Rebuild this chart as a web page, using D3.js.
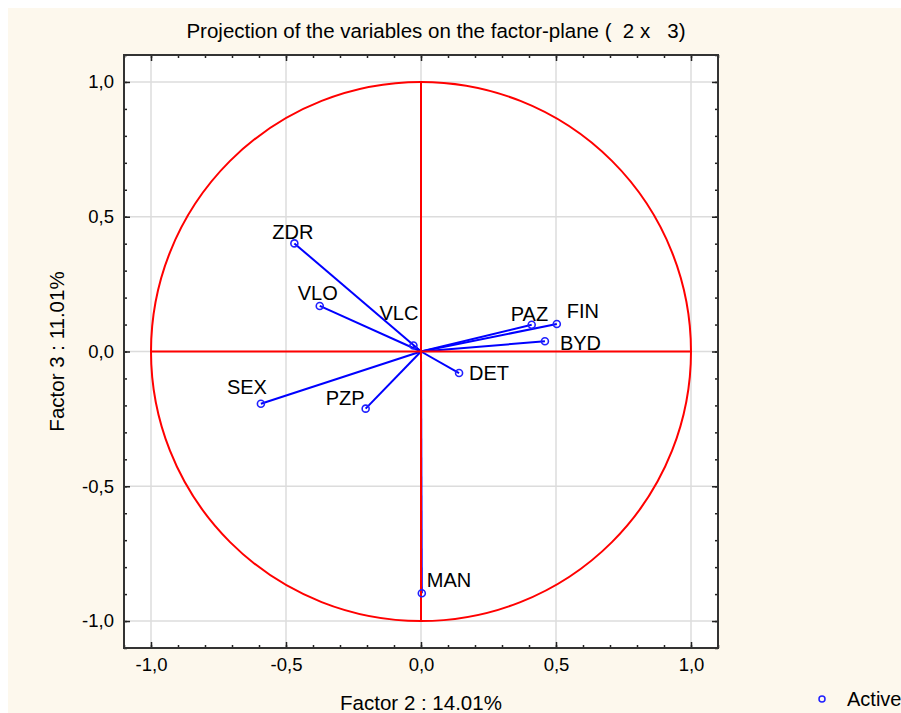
<!DOCTYPE html>
<html>
<head>
<meta charset="utf-8">
<script src="https://cdn.jsdelivr.net/npm/d3@7"></script>
<style>
	body { margin: 0; background: #ffffff; }
	text { font-family: "Liberation Sans", Arial, sans-serif; white-space: pre; }
</style>
</head>
<body>
<div id="factor-plane"></div>
<script>
//Variable names and their coordinates on the factor plane (Factor 2 x Factor 3)
var varNames = ["ZDR", "VLO", "VLC", "SEX", "PZP", "PAZ", "FIN", "BYD", "DET", "MAN"];
var factor2 = [-0.469, -0.375, -0.028, -0.593, -0.205, 0.410, 0.503, 0.459, 0.141, 0.003];
var factor3 = [0.401, 0.169, 0.022, -0.194, -0.212, 0.099, 0.102, 0.038, -0.080, -0.897];

//Where the name sits next to its point (pixels, relative to the point)
var labelDx = [-22, -22, -34, -34, -40, -21, 10, 15, 10, 5];
var labelDy = [-4, -6, -26, -10, -4, -4, -6, 9, 7, -6];

var majorTicks = [-1.0, -0.5, 0.0, 0.5, 1.0];
var minorTicks = d3.range(-11, 12).map(function(d){ return d / 10; });

var chartTitle = "Projection of the variables on the factor-plane (  2 x   3)";
var xTitle = "Factor 2 : 14.01%";
var yTitle = "Factor 3 : 11.01%";
var legendText = "Active";

//Standard margin praxis
var width = 901, height = 713;
var chartMargin = {top: 55, right: 183, bottom: 65, left: 124},
	chartWidth = width - chartMargin.left - chartMargin.right,
	chartHeight = height - chartMargin.top - chartMargin.bottom;

var svg = d3.select("#factor-plane")
	.append("svg")
	.attr("width", width)
	.attr("height", height);

//Cream background with the thin white edge on top and left
svg.append("rect")
	.attr("x", 8)
	.attr("y", 8)
	.attr("width", width - 8)
	.attr("height", height - 8)
	.attr("fill", "#fdf8ed");

var plot = svg.append("g")
	.attr("transform", "translate(" + chartMargin.left + "," + chartMargin.top + ")");

plot.append("rect")
	.attr("width", chartWidth)
	.attr("height", chartHeight)
	.attr("fill", "#ffffff");

var x = d3.scaleLinear().domain([-1.1, 1.1]).range([0, chartWidth]);
var y = d3.scaleLinear().domain([-1.1, 1.1]).range([chartHeight, 0]);

var commaFormat = d3.formatLocale({decimal: ",", thousands: ".", grouping: [3], currency: ["", ""], minus: "-"}).format(".1f");

//Grid lines
plot.selectAll(".gridX")
	.data(majorTicks)
	.enter().append("line")
	.attr("class", "gridX")
	.attr("x1", function(d){ return x(d); })
	.attr("x2", function(d){ return x(d); })
	.attr("y1", 0)
	.attr("y2", chartHeight)
	.attr("stroke", "#dcdcdc")
	.attr("stroke-width", 1.5);

plot.selectAll(".gridY")
	.data(majorTicks)
	.enter().append("line")
	.attr("class", "gridY")
	.attr("y1", function(d){ return y(d); })
	.attr("y2", function(d){ return y(d); })
	.attr("x1", 0)
	.attr("x2", chartWidth)
	.attr("stroke", "#dcdcdc")
	.attr("stroke-width", 1.5);

//Vectors from the origin to each variable
var points = varNames.map(function(name, i){
	return {name: name, f2: factor2[i], f3: factor3[i], dx: labelDx[i], dy: labelDy[i]};
});

plot.selectAll(".vector")
	.data(points)
	.enter().append("line")
	.attr("class", "vector")
	.attr("x1", x(0))
	.attr("y1", y(0))
	.attr("x2", function(d){ return x(d.f2); })
	.attr("y2", function(d){ return y(d.f3); })
	.attr("stroke", "#0000ff")
	.attr("stroke-width", 2);

//Unit circle and the red axes through the origin
plot.append("ellipse")
	.attr("cx", x(0))
	.attr("cy", y(0))
	.attr("rx", x(1) - x(0))
	.attr("ry", y(0) - y(1))
	.attr("fill", "none")
	.attr("stroke", "#ff0000")
	.attr("stroke-width", 2);

plot.append("line")
	.attr("x1", x(0)).attr("x2", x(0))
	.attr("y1", y(1)).attr("y2", y(-1))
	.attr("stroke", "#ff0000")
	.attr("stroke-width", 2);

plot.append("line")
	.attr("x1", x(-1)).attr("x2", x(1))
	.attr("y1", y(0)).attr("y2", y(0))
	.attr("stroke", "#ff0000")
	.attr("stroke-width", 2);

plot.selectAll(".varDot")
	.data(points)
	.enter().append("circle")
	.attr("class", "varDot")
	.attr("cx", function(d){ return x(d.f2); })
	.attr("cy", function(d){ return y(d.f3); })
	.attr("r", 3.5)
	.attr("fill", "none")
	.attr("stroke", "#2020ff")
	.attr("stroke-width", 1.6);

plot.selectAll(".varName")
	.data(points)
	.enter().append("text")
	.attr("class", "varName")
	.attr("x", function(d){ return x(d.f2) + d.dx; })
	.attr("y", function(d){ return y(d.f3) + d.dy; })
	.style("font-size", "20px")
	.style("fill", "#000000")
	.text(function(d){ return d.name; });

//Axes: labels outside, ticks pointing in on all four sides
function drawAxis(axisFn, scale, transform, labelled)
{
	var minor = plot.append("g")
		.attr("transform", transform)
		.call(axisFn(scale).tickValues(minorTicks).tickSize(-3).tickFormat(""));
	minor.select(".domain").remove();

	var major = plot.append("g")
		.attr("transform", transform)
		.call(axisFn(scale).tickValues(majorTicks).tickSize(-6).tickPadding(10)
			.tickFormat(labelled ? commaFormat : ""));
	major.select(".domain").remove();
	major.selectAll("text")
		.style("font-size", "18.5px")
		.style("font-family", "'Liberation Sans', Arial, sans-serif")
		.style("fill", "#000000");
	plot.selectAll(".tick line").attr("stroke", "#222222").attr("stroke-width", 1.5);
}

drawAxis(d3.axisBottom, x, "translate(0," + chartHeight + ")", true);
drawAxis(d3.axisTop, x, "translate(0,0)", false);
drawAxis(d3.axisLeft, y, "translate(0,0)", true);
drawAxis(d3.axisRight, y, "translate(" + chartWidth + ",0)", false);

//Frame
plot.append("rect")
	.attr("width", chartWidth)
	.attr("height", chartHeight)
	.attr("fill", "none")
	.attr("stroke", "#333333")
	.attr("stroke-width", 2);

//Titles
svg.append("text")
	.attr("x", 436)
	.attr("y", 38)
	.style("text-anchor", "middle")
	.style("font-size", "20.5px")
	.text(chartTitle);

svg.append("text")
	.attr("x", chartMargin.left + x(0))
	.attr("y", 710)
	.style("text-anchor", "middle")
	.style("font-size", "20.5px")
	.text(xTitle);

svg.append("text")
	.attr("transform", "translate(64," + (chartMargin.top + y(0)) + ") rotate(-90)")
	.style("text-anchor", "middle")
	.style("font-size", "20.5px")
	.text(yTitle);

//Legend
svg.append("circle")
	.attr("cx", 822)
	.attr("cy", 699)
	.attr("r", 3)
	.attr("fill", "none")
	.attr("stroke", "#2020ff")
	.attr("stroke-width", 1.5);

svg.append("text")
	.attr("x", 847)
	.attr("y", 706)
	.style("font-size", "20px")
	.text(legendText);
</script>
</body>
</html>
